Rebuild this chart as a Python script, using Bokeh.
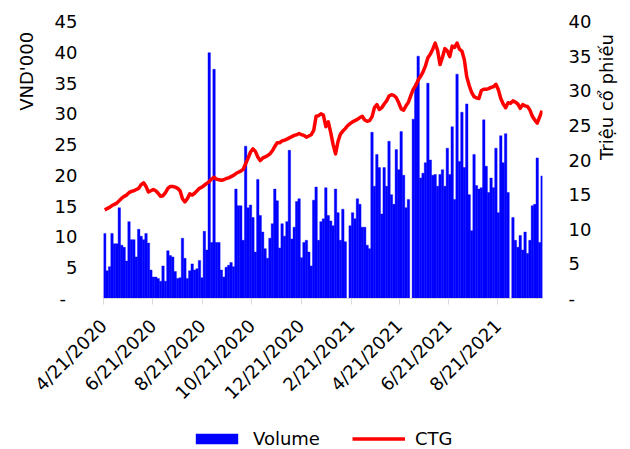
import math
import pandas as pd
from bokeh.plotting import figure
from bokeh.layouts import column
from bokeh.models import Range1d, LinearAxis, FixedTicker, Legend, LegendItem
from bokeh.embed import file_html
from bokeh.resources import INLINE

# ---------------- data ----------------
start_date = "2020-04-21"
end_date = "2021-10-15"
n_points = 181
dates = pd.date_range(start_date, periods=n_points, freq="3D")

# Volume, million shares (right axis)
volume = [
    9.4, 4.0, 4.6, 9.4, 7.9, 7.9, 13.1, 7.7, 7.4, 5.4, 11.1, 8.5, 8.5, 6.0, 10.0, 9.0, 8.5, 9.4,
    8.0, 4.1, 3.1, 3.1, 2.9, 2.5, 4.7, 2.5, 6.9, 6.2, 6.0, 3.9, 2.9, 3.0, 8.7, 5.8, 2.9, 4.0,
    5.0, 4.1, 4.3, 5.5, 3.0, 9.7, 7.0, 35.5, 8.1, 33.1, 8.1, 8.1, 4.1, 3.1, 4.5, 4.8, 5.2, 4.6,
    15.8, 13.4, 13.4, 8.4, 22.0, 13.1, 13.5, 11.7, 6.7, 17.2, 12.0, 9.6, 7.2, 5.8, 8.7, 10.8, 15.8, 14.1,
    7.3, 10.8, 9.0, 11.1, 21.4, 8.6, 10.3, 14.0, 14.4, 5.9, 8.1, 8.4, 6.7, 4.7, 14.2, 16.1, 8.4, 11.1,
    11.5, 16.0, 12.0, 11.2, 10.5, 15.8, 12.4, 8.4, 12.9, 8.2, 0.0, 10.5, 12.4, 11.5, 14.4, 13.6, 10.3, 10.3,
    7.7, 7.2, 24.0, 16.2, 20.8, 18.9, 12.2, 18.9, 16.2, 22.7, 15.0, 13.6, 21.5, 18.6, 24.1, 17.8, 13.1, 14.3,
    0.0, 25.9, 31.0, 35.0, 17.4, 18.1, 19.6, 31.1, 20.0, 17.8, 17.9, 16.2, 17.9, 18.6, 16.2, 21.7, 17.9, 24.8,
    14.3, 32.4, 19.8, 26.9, 18.9, 28.1, 15.0, 9.8, 20.8, 16.3, 15.8, 16.0, 25.8, 19.1, 15.3, 17.4, 16.0, 21.7,
    12.4, 23.5, 19.6, 23.8, 15.3, 0.0, 11.7, 8.4, 7.4, 9.1, 7.0, 9.6, 6.5, 8.4, 13.4, 13.6, 20.3, 8.1, 17.7,
]

# CTG price, VND'000 (left axis)
price = [
    14.4, 14.6, 14.8, 15.1, 15.3, 15.5, 15.9, 16.3, 16.6, 16.8, 17.2, 17.4, 17.5, 17.7, 17.9, 18.5, 18.8, 18.2,
    17.3, 17.5, 17.7, 17.5, 17.1, 16.6, 16.7, 17.2, 17.9, 18.2, 18.2, 18.1, 17.9, 17.5, 16.2, 15.7, 16.2, 17.0,
    16.8, 17.1, 17.5, 17.9, 18.1, 18.4, 18.7, 19.0, 19.4, 19.7, 19.4, 19.3, 19.2, 19.3, 19.5, 19.6, 19.8, 20.0,
    20.3, 20.5, 20.7, 21.0, 21.9, 22.8, 23.8, 24.3, 23.9, 23.0, 22.4, 22.8, 23.0, 23.2, 23.5, 24.0, 24.7, 25.3,
    25.3, 25.6, 25.7, 25.9, 26.1, 26.3, 26.5, 26.6, 26.8, 26.6, 26.5, 26.2, 26.4, 26.6, 27.3, 29.6, 29.7, 30.0,
    29.8, 27.9, 28.7, 27.0, 25.0, 23.5, 25.5, 26.7, 27.2, 27.6, 28.1, 28.4, 28.7, 28.9, 29.1, 29.4, 29.6, 29.0,
    28.8, 28.9, 29.5, 31.0, 31.5, 30.7, 31.0, 31.6, 32.1, 32.9, 33.1, 33.0, 32.6, 31.8, 30.8, 30.6, 31.3, 31.9,
    33.0, 34.0, 34.6, 35.5, 36.1, 36.8, 37.8, 39.1, 39.7, 40.5, 41.5, 40.3, 38.0, 39.2, 40.6, 40.2, 39.3, 41.0,
    40.8, 41.5, 40.5, 40.2, 38.8, 36.0, 34.6, 33.5, 32.8, 32.6, 32.5, 33.8, 34.0, 34.0, 34.1, 34.3, 34.4, 34.8,
    33.9, 32.5, 31.6, 31.0, 31.8, 31.7, 32.1, 31.9, 31.6, 30.9, 31.5, 31.3, 31.2, 30.6, 29.6, 29.0, 28.5, 29.5, 30.5,
]

tick_dates = ["2020-04-21", "2020-06-21", "2020-08-21", "2020-10-21", "2020-12-21",
              "2021-02-21", "2021-04-21", "2021-06-21", "2021-08-21"]
tick_labels = ["4/21/2020", "6/21/2020", "8/21/2020", "10/21/2020", "12/21/2020",
               "2/21/2021", "4/21/2021", "6/21/2021", "8/21/2021"]
left_ticks = [0, 5, 10, 15, 20, 25, 30, 35, 40, 45]
right_ticks = [0, 5, 10, 15, 20, 25, 30, 35, 40]

# ---------------- geometry helpers ----------------
t0 = pd.Timestamp(start_date)
days = [(d - t0).days for d in dates]
tick_days = [(pd.Timestamp(t) - t0).days for t in tick_dates]
end_day = (pd.Timestamp(end_date) - t0).days
bar_w = 3.0
bar_x = [d + bar_w / 2 for d in days]

FONT = "DejaVu Sans"
FS = "18px"
NB = "\u00a0"
BLUE = "#0000ff"
RED = "#ff0000"

p = figure(width=630, height=413, output_backend="svg", toolbar_location=None,
           x_range=Range1d(0, end_day), y_range=Range1d(0, 45),
           min_border_left=103, min_border_right=85, min_border_top=21, min_border_bottom=111)
p.extra_y_ranges = {"vol": Range1d(0, 40)}
p.outline_line_color = None
p.xgrid.visible = False
p.ygrid.visible = False

bars = p.vbar(x=bar_x, top=volume, width=bar_w, y_range_name="vol",
              fill_color=BLUE, line_color=BLUE, line_width=0.4)
line = p.line(x=bar_x, y=price, line_color=RED, line_width=3.5, line_join="round")

# left axis
ya = p.yaxis[0]
ya.ticker = FixedTicker(ticks=left_ticks)
ya.major_label_overrides = {0: "-" + NB * 2}
ya.axis_line_color = None
ya.major_tick_line_color = None
ya.minor_tick_line_color = None
ya.major_tick_out = 0
ya.major_tick_in = 0
ya.minor_tick_out = 0
ya.major_label_standoff = 26
ya.major_label_text_font = FONT
ya.major_label_text_font_size = FS
ya.major_label_text_color = "black"
ya.axis_label = NB * 31 + "VND'000"
ya.axis_label_text_font = FONT
ya.axis_label_text_font_size = FS
ya.axis_label_text_font_style = "normal"
ya.axis_label_text_color = "black"
ya.axis_label_standoff = 15

# right axis
ra = LinearAxis(y_range_name="vol", ticker=FixedTicker(ticks=right_ticks))
ra.major_label_overrides = {0: "-"}
ra.axis_line_color = None
ra.major_tick_line_color = None
ra.minor_tick_line_color = None
ra.major_tick_out = 0
ra.major_tick_in = 0
ra.minor_tick_out = 0
ra.major_label_standoff = 26
ra.major_label_text_font = FONT
ra.major_label_text_font_size = FS
ra.major_label_text_color = "black"
ra.axis_label = "Triệu cổ phiếu"
ra.axis_label_orientation = math.pi / 2
ra.axis_label_text_font = FONT
ra.axis_label_text_font_size = FS
ra.axis_label_text_font_style = "normal"
ra.axis_label_text_color = "black"
ra.axis_label_standoff = 12
p.add_layout(ra, "right")

# x axis
xa = p.xaxis[0]
xa.ticker = FixedTicker(ticks=tick_days)
xa.major_label_overrides = dict(zip(tick_days, tick_labels))
xa.major_label_orientation = math.pi / 4
xa.axis_line_color = "#d9d9d9"
xa.major_tick_line_color = "#d9d9d9"
xa.major_tick_out = 6
xa.major_tick_in = 0
xa.minor_tick_line_color = None
xa.minor_tick_out = 0
xa.major_label_standoff = 18
xa.major_label_text_font = FONT
xa.major_label_text_font_size = FS
xa.major_label_text_color = "black"

# ---------------- legend strip (its frame is aligned with the main frame) ----------------
pl = figure(width=630, height=36, output_backend="svg", toolbar_location=None,
            x_range=Range1d(0, end_day), y_range=Range1d(1000, 1001),
            x_axis_location=None, y_axis_location=None, min_border=0)
pl.outline_line_color = None
pl.xgrid.visible = False
pl.ygrid.visible = False
pl.border_fill_color = "white"
pl.background_fill_color = "white"
# same series, lying far outside the strip's visible range: only their legend swatches show
lg_bar = pl.vbar(x=bar_x, top=volume, width=bar_w, fill_color=BLUE, line_color=None)
lg_line = pl.line(x=bar_x, y=price, line_color=RED, line_width=3.5)
legend = Legend(items=[LegendItem(label="Volume", renderers=[lg_bar]),
                       LegendItem(label="CTG", renderers=[lg_line])],
                orientation="horizontal", location=(87, 0),
                glyph_width=53, glyph_height=13, label_standoff=10, spacing=32,
                padding=0, margin=0, border_line_color=None, background_fill_alpha=0,
                label_text_font=FONT, label_text_font_size=FS, label_text_color="black")
pl.add_layout(legend, "center")

layout = column(p, pl, spacing=0)
open("out.html", "w").write(file_html(layout, INLINE))
